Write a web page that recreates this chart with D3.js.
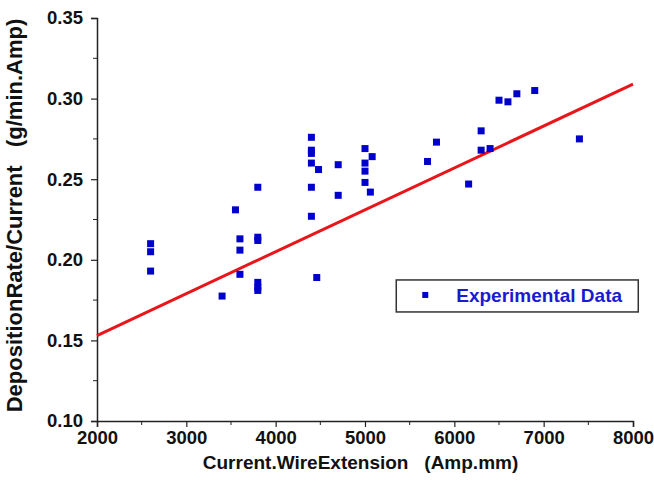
<!DOCTYPE html>
<html>
<head>
<meta charset="utf-8">
<script src="https://cdn.jsdelivr.net/npm/d3@7"></script>
<style>
  body { margin: 0; background: #fff; }
  svg text { font-family: "Liberation Sans", Arial, sans-serif; font-weight: bold; }
</style>
</head>
<body>
<svg id="chart" width="654" height="499"></svg>
<script>
// Experimental points (current.wire extension, deposition rate / current)
var expX = [2600, 2600, 2600, 3400, 3550, 3600, 3600, 3600, 3800, 3800, 3800,
            3800, 3800, 3800, 4400, 4400, 4400, 4400, 4400, 4400, 4480, 4460,
            4700, 4700, 5000, 5000, 5000, 5000, 5060, 5080, 5700, 5800, 6160,
            6300, 6300, 6400, 6500, 6600, 6700, 6900, 7400];
var expY = [0.210, 0.205, 0.193, 0.1775, 0.231, 0.213, 0.206, 0.191, 0.245, 0.214, 0.212,
            0.186, 0.183, 0.181, 0.276, 0.268, 0.266, 0.260, 0.245, 0.227, 0.256, 0.189,
            0.259, 0.240, 0.269, 0.260, 0.255, 0.248, 0.242, 0.264, 0.261, 0.273, 0.247,
            0.280, 0.268, 0.269, 0.299, 0.298, 0.303, 0.305, 0.275];

// fitted line end points
var fitX = [2000, 8000];
var fitY = [0.153, 0.309];

var xTicks = [2000, 3000, 4000, 5000, 6000, 7000, 8000];
var yTicks = [0.10, 0.15, 0.20, 0.25, 0.30, 0.35];

var margin = {top: 18, right: 21, bottom: 78, left: 97},
    width = 654 - margin.left - margin.right,
    height = 499 - margin.top - margin.bottom;

var svg = d3.select("#chart")
  .append("g")
    .attr("transform", "translate(" + margin.left + "," + margin.top + ")");

var x = d3.scaleLinear().domain([2000, 8000]).range([0, width]);
var y = d3.scaleLinear().domain([0.10, 0.35]).range([height, 0]);

/////////// Axes ///////////

function drawAxes() {
  var xAxis = svg.append("g")
    .attr("transform", "translate(0," + height + ")")
    .call(d3.axisBottom(x).tickValues(xTicks).tickFormat(d3.format("d")).tickSize(6).tickPadding(4));
  // minor ticks
  xAxis.selectAll(".minor")
    .data(d3.range(2500, 8000, 1000))
    .enter().append("line")
      .attr("x1", function(d) { return x(d); })
      .attr("x2", function(d) { return x(d); })
      .attr("y2", 4)
      .attr("stroke", "#222");

  var yAxis = svg.append("g")
    .call(d3.axisLeft(y).tickValues(yTicks).tickFormat(d3.format(".2f")).tickSize(6).tickPadding(8));
  yAxis.selectAll(".minor")
    .data([0.125, 0.175, 0.225, 0.275, 0.325])
    .enter().append("line")
      .attr("y1", function(d) { return y(d); })
      .attr("y2", function(d) { return y(d); })
      .attr("x2", -4)
      .attr("stroke", "#222");

  svg.selectAll(".domain").attr("stroke", "#222").attr("stroke-width", 1.5);
  svg.selectAll(".tick line").attr("stroke", "#222").attr("stroke-width", 1.2);
  svg.selectAll(".tick text").attr("font-size", 18.5).attr("fill", "#111");
}

drawAxes();

/////////// Fit line and points ///////////

svg.append("line")
  .attr("x1", x(fitX[0])).attr("y1", y(fitY[0]))
  .attr("x2", x(fitX[1])).attr("y2", y(fitY[1]))
  .attr("stroke", "#e8161a")
  .attr("stroke-width", 3);

var pts = expX.map(function(v, i) { return {x: v, y: expY[i]}; });

svg.selectAll("rect.pt")
  .data(pts)
  .enter().append("rect")
    .attr("class", "pt")
    .attr("x", function(d) { return x(d.x) - 3.5; })
    .attr("y", function(d) { return y(d.y) - 3.5; })
    .attr("width", 7)
    .attr("height", 7)
    .attr("fill", "#0000cc");

/////////// Legend ///////////

var legend = svg.append("g")
  .attr("transform", "translate(" + (x(5350)) + "," + (y(0.1875)) + ")");
legend.append("rect")
  .attr("width", 242).attr("height", 32)
  .attr("fill", "#fff").attr("stroke", "#333").attr("stroke-width", 1.5);
legend.append("rect")
  .attr("x", 26).attr("y", 12).attr("width", 6).attr("height", 6)
  .attr("fill", "#0000cc");
legend.append("text")
  .attr("x", 60).attr("y", 22)
  .attr("font-size", 19)
  .attr("fill", "#1a1ad0")
  .text("Experimental Data");

/////////// Axis titles ///////////

svg.append("text")
  .attr("x", x(4950)).attr("y", height + 48)
  .attr("text-anchor", "middle")
  .attr("font-size", 19)
  .attr("fill", "#111")
  .attr("xml:space", "preserve")
  .text("Current.WireExtension   (Amp.mm)");

svg.append("text")
  .attr("transform", "translate(" + (-75) + "," + (height / 2 - 4) + ") rotate(-90)")
  .attr("text-anchor", "middle")
  .attr("font-size", 22)
  .attr("fill", "#111")
  .attr("xml:space", "preserve")
  .text("DepositionRate/Current   (g/min.Amp)");
</script>
</body>
</html>
